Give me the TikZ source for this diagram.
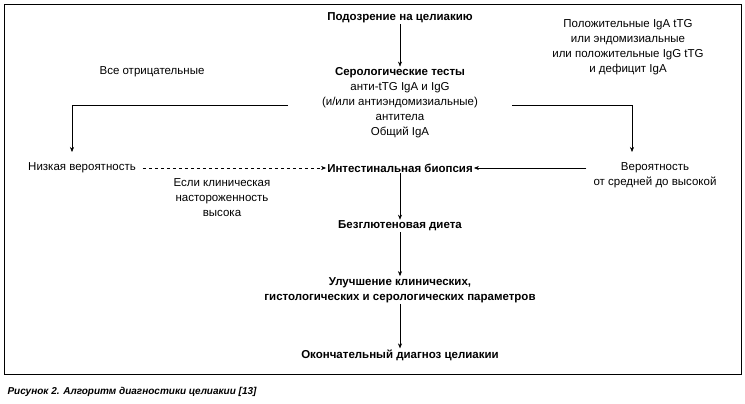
\documentclass[tikz,border=0pt]{standalone}
\usepackage{fontspec}
\setmainfont{Liberation Sans}
\usetikzlibrary{positioning,arrows.meta}

\tikzset{
  box/.style={font=\fontsize{11.5}{15}\selectfont, align=center, inner sep=1pt},
  hbox/.style={box, font=\fontsize{11.5}{15}\selectfont\bfseries},
  arr/.style={-{Stealth[length=5pt,width=4pt]}, line width=0.5pt},
}

\begin{document}
\begin{tikzpicture}[x=1pt,y=-1pt]
  \useasboundingbox (0,0) rectangle (745,404);
  \draw[line width=0.6pt] (4,4) rectangle (741,374);

  \node[hbox] (Susp) at (400,18) {Подозрение на целиакию};
  \node[box] (Sero) at (400,103) {\textbf{Серологические тесты}\\анти-tTG IgA и IgG\\(и/или антиэндомизиальные)\\антитела\\Общий IgA};
  \node[box] (Neg) at (152,72) {Все отрицательные};
  \node[box] (Pos) at (628,47) {Положительные IgA tTG\\или эндомизиальные\\или положительные IgG tTG\\и дефицит IgA};
  \node[box] (Low) at (82,168) {Низкая вероятность};
  \node[hbox] (Biop) at (400,168) {Интестинальная биопсия};
  \node[box] (High) at (655,175) {Вероятность\\от средней до высокой};
  \node[box] (Alert) at (222,198) {Если клиническая\\настороженность\\высока};
  \node[hbox] (Diet) at (400,226) {Безглютеновая диета};
  \node[hbox] (Impr) at (400,290) {Улучшение клинических,\\гистологических и серологических параметров};
  \node[hbox] (Final) at (400,355) {Окончательный диагноз целиакии};

  \coordinate (SeroL) at (288,105);
  \coordinate (SeroR) at (512,105);
  \coordinate (LowT) at (72,152);
  \coordinate (HighT) at (632,152);

  \draw[arr] (Susp) -- (Sero);
  \draw[arr] (SeroL) -| (LowT);
  \draw[arr] (SeroR) -| (HighT);
  \draw[arr, dashed] (Low.east) ++(6,0) -- (Biop.west);
  \draw[arr] (High.west |- Biop) ++(-6,0) -- (Biop.east);
  \draw[arr] (Biop) -- (Diet);
  \draw[arr] (Diet) -- (Impr);
  \draw[arr] (Impr) -- (Final);

  \node[font=\fontsize{10}{12}\selectfont\bfseries\itshape, anchor=west] (Cap) at (4,392) {Рисунок 2. Алгоритм диагностики целиакии [13]};
\end{tikzpicture}
\end{document}
